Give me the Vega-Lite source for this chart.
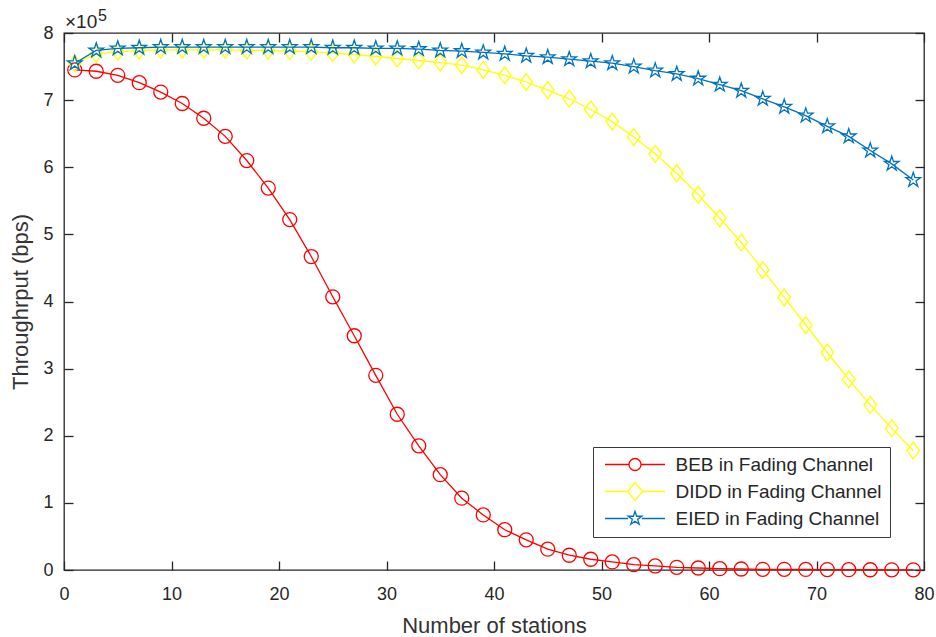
{
  "$schema": "https://vega.github.io/schema/vega-lite/v6.json",
  "width": 860,
  "height": 537,
  "autosize": {"type": "none"},
  "padding": {"left": 64, "top": 33, "right": 12, "bottom": 67},
  "background": "white",
  "config": {
    "view": {"stroke": "#262626", "strokeWidth": 1.3},
    "font": "Liberation Sans",
    "axis": {
      "grid": false,
      "domain": false,
      "tickColor": "#262626",
      "tickWidth": 1.3,
      "tickSize": -9,
      "labelColor": "#262626",
      "labelFontSize": 18,
      "labelFont": "Liberation Sans",
      "titleFont": "Liberation Sans",
      "titleFontSize": 22,
      "titleFontWeight": "normal",
      "titleColor": "#333333",
      "labelFlush": false,
      "labelOverlap": false
    }
  },
  "data": {
    "values": [
      {"n": 1, "BEB": 745000, "DIDD": 755000, "EIED": 755000},
      {"n": 3, "BEB": 743000, "DIDD": 769000, "EIED": 774000},
      {"n": 5, "BEB": 737000, "DIDD": 772000, "EIED": 777000},
      {"n": 7, "BEB": 726000, "DIDD": 774000, "EIED": 778000},
      {"n": 9, "BEB": 712000, "DIDD": 775000, "EIED": 779000},
      {"n": 11, "BEB": 695000, "DIDD": 775000, "EIED": 779000},
      {"n": 13, "BEB": 673000, "DIDD": 775000, "EIED": 779000},
      {"n": 15, "BEB": 646000, "DIDD": 775000, "EIED": 779000},
      {"n": 17, "BEB": 610000, "DIDD": 774000, "EIED": 779000},
      {"n": 19, "BEB": 569000, "DIDD": 774000, "EIED": 779000},
      {"n": 21, "BEB": 522000, "DIDD": 773000, "EIED": 779000},
      {"n": 23, "BEB": 467000, "DIDD": 772000, "EIED": 779000},
      {"n": 25, "BEB": 407000, "DIDD": 770000, "EIED": 778000},
      {"n": 27, "BEB": 349000, "DIDD": 768000, "EIED": 778000},
      {"n": 29, "BEB": 290000, "DIDD": 765000, "EIED": 777000},
      {"n": 31, "BEB": 232000, "DIDD": 762000, "EIED": 777000},
      {"n": 33, "BEB": 185000, "DIDD": 759000, "EIED": 776000},
      {"n": 35, "BEB": 142000, "DIDD": 756000, "EIED": 774000},
      {"n": 37, "BEB": 107000, "DIDD": 752000, "EIED": 773000},
      {"n": 39, "BEB": 82000, "DIDD": 745000, "EIED": 771000},
      {"n": 41, "BEB": 60000, "DIDD": 737000, "EIED": 769000},
      {"n": 43, "BEB": 45000, "DIDD": 727000, "EIED": 766000},
      {"n": 45, "BEB": 31000, "DIDD": 715000, "EIED": 764000},
      {"n": 47, "BEB": 22000, "DIDD": 702000, "EIED": 761000},
      {"n": 49, "BEB": 16000, "DIDD": 686000, "EIED": 758000},
      {"n": 51, "BEB": 12000, "DIDD": 668000, "EIED": 755000},
      {"n": 53, "BEB": 8000, "DIDD": 645000, "EIED": 750000},
      {"n": 55, "BEB": 6000, "DIDD": 620000, "EIED": 744000},
      {"n": 57, "BEB": 4000, "DIDD": 591000, "EIED": 739000},
      {"n": 59, "BEB": 3000, "DIDD": 559000, "EIED": 732000},
      {"n": 61, "BEB": 2000, "DIDD": 524000, "EIED": 723000},
      {"n": 63, "BEB": 1500, "DIDD": 488000, "EIED": 714000},
      {"n": 65, "BEB": 1000, "DIDD": 447000, "EIED": 702000},
      {"n": 67, "BEB": 1000, "DIDD": 406000, "EIED": 690000},
      {"n": 69, "BEB": 800, "DIDD": 365000, "EIED": 677000},
      {"n": 71, "BEB": 600, "DIDD": 324000, "EIED": 661000},
      {"n": 73, "BEB": 500, "DIDD": 284000, "EIED": 646000},
      {"n": 75, "BEB": 400, "DIDD": 246000, "EIED": 625000},
      {"n": 77, "BEB": 300, "DIDD": 211000, "EIED": 605000},
      {"n": 79, "BEB": 300, "DIDD": 178000, "EIED": 581000}
    ]
  },
  "transform": [{"fold": ["BEB", "DIDD", "EIED"], "as": ["series", "throughput"]}],
  "layer": [
    {
      "encoding": {
        "x": {
          "field": "n",
          "type": "quantitative",
          "scale": {"domain": [0, 80], "nice": false, "zero": false},
          "axis": {
            "orient": "bottom",
            "values": [0, 10, 20, 30, 40, 50, 60, 70, 80],
            "title": "Number of stations",
            "labelPadding": 24,
            "titlePadding": 12
          }
        },
        "y": {
          "field": "throughput",
          "type": "quantitative",
          "scale": {"domain": [0, 800000], "nice": false},
          "axis": {
            "orient": "left",
            "values": [0, 100000, 200000, 300000, 400000, 500000, 600000, 700000, 800000],
            "labelExpr": "format(datum.value / 100000, 'd')",
            "title": "Throughrput (bps)",
            "labelPadding": 20,
            "titlePadding": 10
          }
        },
        "color": {
          "field": "series",
          "type": "nominal",
          "scale": {"domain": ["BEB", "DIDD", "EIED"], "range": ["#FF0000", "#FFFF00", "#0072BD"]},
          "legend": {
            "orient": "none",
            "legendX": 529,
            "legendY": 414,
            "title": null,
            "padding": 8,
            "strokeColor": "#3a3a3a",
            "fillColor": "white",
            "symbolSize": 144,
            "symbolStrokeWidth": 1.3,
            "symbolOffset": 24.5,
            "labelOffset": 31,
            "labelFontSize": 19,
            "labelLimit": 400,
            "labelFont": "Liberation Sans",
            "labelColor": "#262626",
            "rowPadding": 4,
            "labelExpr": "datum.label + ' in Fading Channel'",
            "encode": {
              "symbols": {
                "update": {
                  "shape": {"signal": "datum.value === 'BEB' ? 'M-5,0L-1,0M1,0L5,0M-1,0A1,1 0 1,0 1,0A1,1 0 1,0 -1,0Z' : datum.value === 'DIDD' ? 'M-5,0L-1.25,0M1.25,0L5,0M0,-1.5L1.25,0L0,1.5L-1.25,0Z' : 'M-5,0L-1.14,0M1.14,0L5,0M0,-1.2L0.269,-0.371L1.141,-0.371L0.435,0.142L0.706,0.971L0,0.458L-0.706,0.971L-0.435,0.142L-1.141,-0.371L-0.269,-0.371Z'"},
                  "fill": {"value": "transparent"},
                  "strokeWidth": {"value": 1.3}
                }
              }
            }
          }
        }
      },
      "layer": [
        {
          "transform": [{"filter": "datum.series === 'BEB'"}],
          "layer": [
            {"mark": {"type": "line", "strokeWidth": 1.3}},
            {
              "mark": {"type": "point", "filled": false, "size": 196, "strokeWidth": 1.3, "opacity": 1, "shape": "M-1,0A1,1 0 1,0 1,0A1,1 0 1,0 -1,0Z"}
            }
          ]
        },
        {
          "transform": [{"filter": "datum.series === 'DIDD'"}],
          "layer": [
            {"mark": {"type": "line", "strokeWidth": 1.3}},
            {
              "mark": {"type": "point", "filled": false, "size": 196, "strokeWidth": 1.3, "opacity": 1, "shape": "M0,-1.2L0.9,0L0,1.2L-0.9,0Z"}
            }
          ]
        },
        {
          "transform": [{"filter": "datum.series === 'EIED'"}],
          "layer": [
            {"mark": {"type": "line", "strokeWidth": 1.3}},
            {
              "mark": {"type": "point", "filled": false, "size": 196, "strokeWidth": 1.3, "opacity": 1, "shape": "M0,-1.1L0.247,-0.34L1.046,-0.34L0.399,0.13L0.647,0.89L0,0.42L-0.647,0.89L-0.399,0.13L-1.046,-0.34L-0.247,-0.34Z"}
            }
          ]
        }
      ]
    },
    {
      "mark": {"type": "point", "opacity": 0},
      "encoding": {
        "x": {
          "field": "n",
          "type": "quantitative",
          "scale": {"domain": [0, 80], "nice": false, "zero": false},
          "axis": {"orient": "top", "values": [0, 10, 20, 30, 40, 50, 60, 70, 80], "labels": false, "title": null}
        },
        "y": {
          "field": "throughput",
          "type": "quantitative",
          "scale": {"domain": [0, 800000], "nice": false},
          "axis": {"orient": "right", "values": [0, 100000, 200000, 300000, 400000, 500000, 600000, 700000, 800000], "labels": false, "title": null}
        }
      }
    },
    {
      "data": {"values": [{"label": "×10", "n": 0, "v": 800000}]},
      "mark": {"type": "text", "align": "left", "baseline": "alphabetic", "dx": 1, "dy": -5, "fontSize": 19, "font": "Liberation Sans", "color": "#262626"},
      "encoding": {
        "x": {"field": "n", "type": "quantitative", "axis": null},
        "y": {"field": "v", "type": "quantitative", "axis": null},
        "text": {"field": "label"}
      }
    },
    {
      "data": {"values": [{"label": "5", "n": 0, "v": 800000}]},
      "mark": {"type": "text", "align": "left", "baseline": "alphabetic", "dx": 34, "dy": -12, "fontSize": 16, "font": "Liberation Sans", "color": "#262626"},
      "encoding": {
        "x": {"field": "n", "type": "quantitative", "axis": null},
        "y": {"field": "v", "type": "quantitative", "axis": null},
        "text": {"field": "label"}
      }
    }
  ],
  "resolve": {"axis": {"x": "independent", "y": "independent"}}
}
